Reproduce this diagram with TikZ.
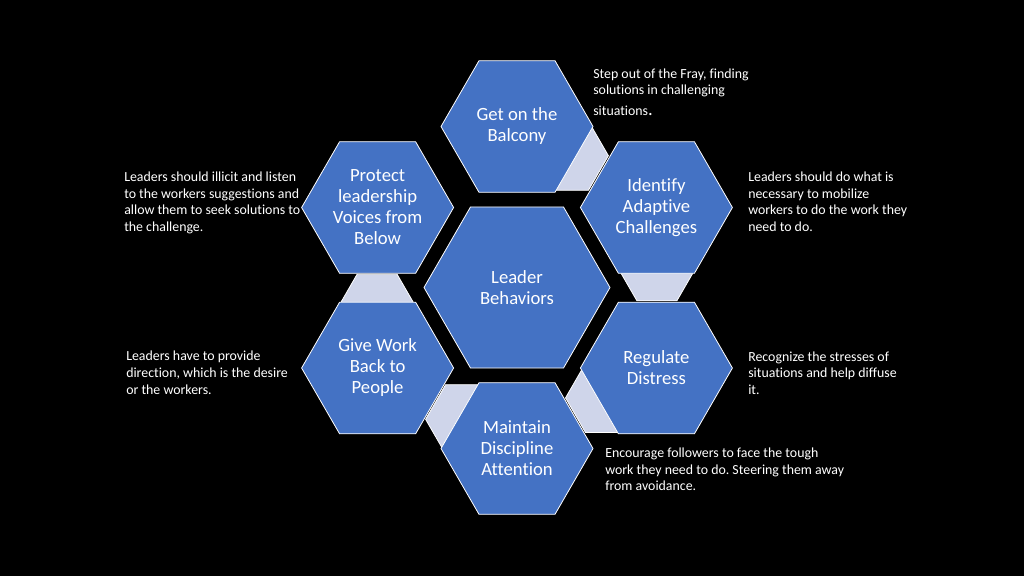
\documentclass[tikz,border=0pt]{standalone}
\usepackage{fontspec}
\setmainfont{Carlito}[Ligatures=NoCommon]
\usetikzlibrary{shapes.geometric}
\definecolor{hexblue}{HTML}{4472C4}
\definecolor{linkfill}{HTML}{CFD5EA}
\frenchspacing
\begin{document}
\begin{tikzpicture}[x=0.75pt,y=-0.75pt,
  hexbase/.style={regular polygon, regular polygon sides=6, inner sep=0pt, draw=white, line width=0.6pt},
  outerhex/.style={hexbase, fill=hexblue, minimum size=114pt, text=white,
    font=\fontsize{14}{15.75}\selectfont, align=center},
  centerhex/.style={outerhex, minimum size=139.5pt},
  linkhex/.style={hexbase, fill=linkfill, minimum size=60pt},
  note/.style={text=white, font=\fontsize{10.4}{12.45}\selectfont, align=left, anchor=base west, inner sep=0pt}]
\fill[black] (0,0) rectangle (1024,576);
\useasboundingbox (0,0) rectangle (1024,576);
% connector hexagons (behind)
\node[linkhex] (linkA) at (568.4,155.7) {};
\node[linkhex] (linkB) at (656.9,266.1) {};
\node[linkhex] (linkC) at (605.5,397.9) {};
\node[linkhex] (linkD) at (465.6,419.3) {};
\node[linkhex] (linkE) at (377.1,308.9) {};
% main hexagons
\node[outerhex] (balcony) at (517,126.5) {Get on the\\Balcony};
\node[outerhex] (identify) at (656.4,207.5) {Identify\\Adaptive\\Challenges};
\node[outerhex] (regulate) at (656.4,368) {Regulate\\Distress};
\node[outerhex] (maintain) at (517,448.5) {Maintain\\Discipline\\Attention};
\node[outerhex] (givework) at (377.6,368) {Give Work\\Back to\\People};
\node[outerhex] (protect) at (377.6,207.5) {Protect\\leadership\\Voices from\\Below};
\node[centerhex] (leader) at (517,287.5) {Leader\\Behaviors};
% notes (anchored at the baseline of the last line)
\node[note] (noteA) at (593,115.5) {Step out of the Fray, finding\\solutions in challenging\\[3pt]situations{\fontsize{14}{15}\selectfont.}};
\node[note] (noteB) at (748,231.5) {Leaders should do what is\\necessary to mobilize\\workers to do the work they\\need to do.};
\node[note] (noteC) at (124,231.3) {Leaders should illicit and listen\\to the workers suggestions and\\allow them to seek solutions to\\the challenge.};
\node[note] (noteD) at (126,394) {Leaders have to provide\\direction, which is the desire\\or the workers.};
\node[note] (noteE) at (748,394.5) {Recognize the stresses of\\situations and help diffuse\\it.};
\node[note] (noteF) at (605,490.7) {Encourage followers to face the tough\\work they need to do. Steering them away\\from avoidance.};
\end{tikzpicture}
\end{document}
